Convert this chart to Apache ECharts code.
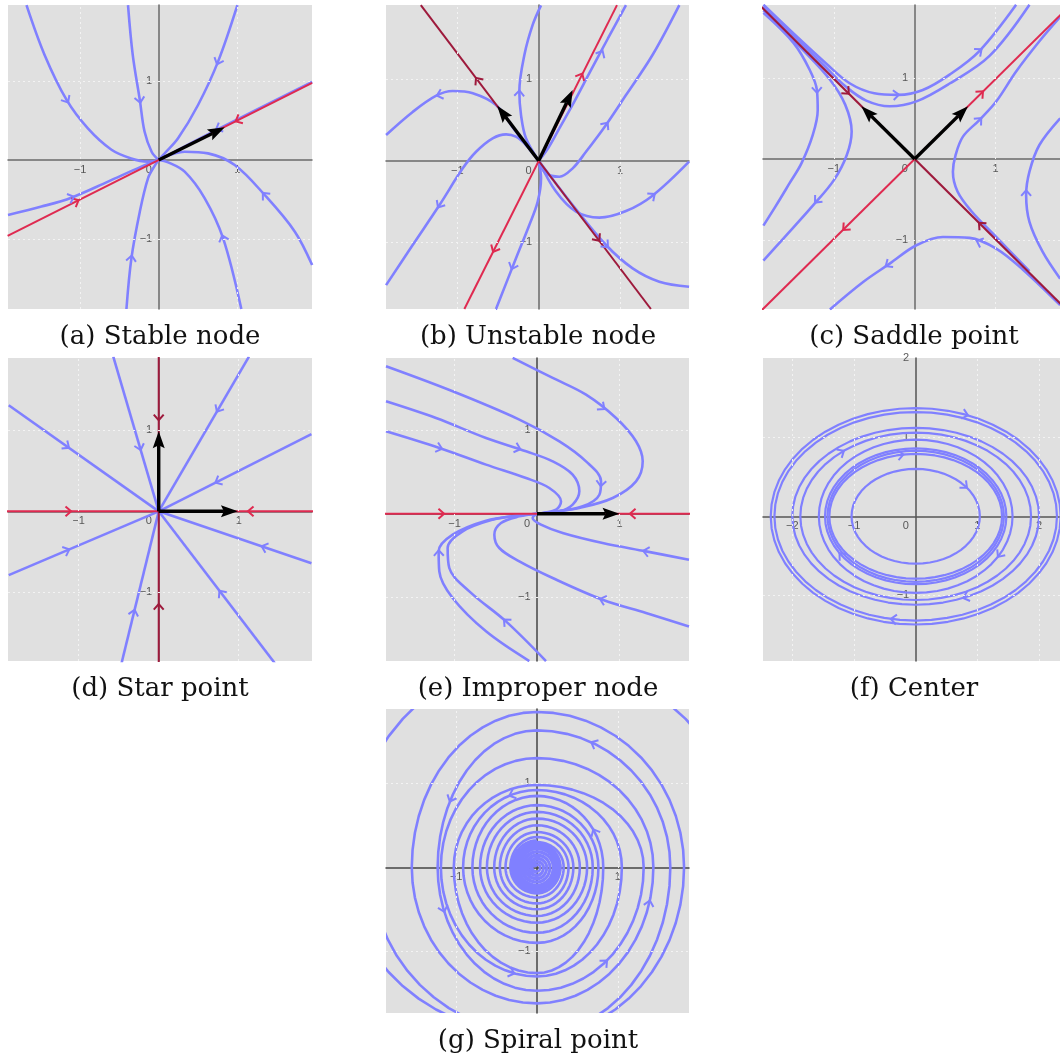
<!DOCTYPE html>
<html><head><meta charset="utf-8">
<script src="https://cdn.jsdelivr.net/npm/echarts@6/dist/echarts.min.js"></script>
<style>html,body{margin:0;padding:0;background:#fff}#c{width:1060px;height:1061px}</style>
</head><body><div id="c"></div>
<script>
// ================= DATA =================
const captions = ['(a) Stable node', '(b) Unstable node', '(c) Saddle point', '(d) Star point', '(e) Improper node', '(f) Center', '(g) Spiral point'];
const ticksX = [-1, 0, 1];
const ticksY = [-1, 1];
const ticksXf = [-2, -1, 0, 1, 2];
const ticksYf = [-1, 1, 2];

// (a) Stable node  — trajectories [x,y]
const aCurves = [
  [[-1.68,1.96],[-1.45,1.33],[-1.17,0.76],[-0.90,0.40],[-0.60,0.13],[-0.35,0.02],[-0.14,-0.02],[0,0]],
  [[-0.39,1.96],[-0.33,1.33],[-0.24,0.76],[-0.18,0.36],[-0.09,0.105],[0,0]],
  [[1.0,1.96],[0.754,1.245],[0.5,0.696],[0.246,0.274],[0.076,0.084],[0,0]],
  [[1.95,-1.33],[1.73,-0.907],[1.347,-0.443],[0.966,-0.063],[0.627,0.084],[0.33,0.105],[0.12,0.055],[0,0]],
  [[1.05,-1.886],[0.818,-0.99],[0.585,-0.485],[0.33,-0.148],[0.12,-0.03],[0,0]],
  [[-0.41,-1.886],[-0.347,-1.245],[-0.24,-0.654],[-0.136,-0.232],[-0.05,-0.07],[0,0]],
  [[-1.915,-0.696],[-1.49,-0.59],[-1.11,-0.477],[-0.644,-0.274],[-0.22,-0.084],[0,0]],
  [[1.95,0.99],[0.76,0.395],[0,0]]
];
const aEigen = [[[-1.92,-0.96],[1.95,0.975]]];
const aArrows = [[1.01,0.505,206.6,1],[-1.05,-0.525,26.6,1],[-1.17,0.76,-59,0],[-0.24,0.76,-81,0],[0.754,1.245,-111.5,0],[1.347,-0.443,132,0],[0.818,-0.99,108,0],[-0.347,-1.245,82,0],[-1.11,-0.477,20.6,0],[0.76,0.40,206.6,0]];
const aVectors = [[0,0,0.84,0.415]];

// (b) Unstable node
const bCurves = [
  [[0,0],[-0.156,0.275],[-0.217,0.56],[-0.238,0.85],[-0.176,1.30],[-0.074,1.67],[0.029,1.91]],
  [[0,0],[-0.28,0.357],[-0.525,0.684],[-0.81,0.83],[-1.057,0.857],[-1.26,0.80],[-1.55,0.60],[-1.877,0.316]],
  [[0,0],[-0.156,0.193],[-0.28,0.295],[-0.40,0.324],[-0.566,0.275],[-0.77,0.11],[-0.934,-0.094],[-1.22,-0.545],[-1.55,-1.037],[-1.877,-1.53]],
  [[0,0],[0.029,-0.217],[-0.012,-0.504],[-0.115,-0.79],[-0.279,-1.2],[-0.525,-1.824]],
  [[0,0],[0.12,0.16],[0.254,0.398],[0.44,0.73],[0.62,1.07],[0.85,1.5],[1.074,1.914]],
  [[0,0],[0.09,-0.156],[0.254,-0.197],[0.418,-0.094],[0.582,0.11],[0.828,0.44],[1.074,0.807],[1.40,1.30],[1.73,1.914]],
  [[0,0],[0.213,-0.38],[0.46,-0.627],[0.746,-0.70],[1.074,-0.619],[1.40,-0.43],[1.85,-0.012]],
  [[0,0],[0.418,-0.545],[0.828,-1.037],[1.156,-1.324],[1.484,-1.488],[1.85,-1.55]]
];
const bEigenSlow = [[[-1.45,1.914],[1.38,-1.824]]];
const bEigenFast = [[[-0.914,-1.824],[0.963,1.914]]];
const bArrows = [[-0.75,0.99,127,2],[0.725,-0.957,-53,2],[0.52,1.04,63.4,1],[-0.545,-1.09,243.4,1],[-0.238,0.83,87,0],[-1.22,0.81,197,0],[-1.22,-0.545,238,0],[-0.32,-1.30,249,0],[0.77,1.32,62,0],[0.828,0.44,53,0],[1.40,-0.43,37,0],[0.828,-1.037,-46,0]];
const bVectors = [[0,0,-0.51,0.675],[0,0,0.418,0.869]];

// (c) Saddle point
const cCurves = [
  [[-1.872,1.90],[-1.45,1.50],[-1.1,1.18],[-0.8,0.93],[-0.5,0.81],[-0.2,0.79],[0.1,0.85],[0.432,1.04],[0.80,1.33],[1.255,1.90]],
  [[-1.872,1.875],[-1.45,1.47],[-1.1,1.13],[-0.85,0.89],[-0.6,0.72],[-0.309,0.65],[0.021,0.71],[0.432,0.93],[0.926,1.27],[1.42,1.90]],
  [[-1.872,1.80],[-1.50,1.43],[-1.30,1.10],[-1.21,0.85],[-1.20,0.60],[-1.26,0.30],[-1.40,-0.05],[-1.55,-0.30],[-1.72,-0.58],[-1.872,-0.82]],
  [[-1.872,1.83],[-1.40,1.36],[-1.05,0.98],[-0.86,0.67],[-0.78,0.34],[-0.84,0.05],[-1.0,-0.26],[-1.255,-0.568],[-1.625,-0.979],[-1.872,-1.25]],
  [[1.42,-1.38],[1.008,-0.96],[0.70,-0.64],[0.53,-0.40],[0.473,-0.156],[0.506,0.049],[0.597,0.276],[0.80,0.48],[1.008,0.708],[1.255,1.078],[1.543,1.45],[1.80,1.75]],
  [[1.80,0.502],[1.543,0.173],[1.42,-0.156],[1.379,-0.444],[1.42,-0.774],[1.584,-1.144],[1.80,-1.473]],
  [[-1.049,-1.852],[-0.638,-1.514],[-0.309,-1.288],[0.021,-1.062],[0.35,-0.96],[0.679,-0.971],[1.008,-1.103],[1.337,-1.36],[1.80,-1.80]]
];
const cEigenStable = [[[-1.9,1.877],[1.9,-1.877]]];
const cEigenUnstable = [[[-1.9,-1.87],[1.9,1.87]]];
const cArrows = [[-0.84,0.83,-45,2],[0.82,-0.81,135,2],[0.82,0.81,45,1],[-0.86,-0.85,225,1],[-0.23,0.79,5,0],[0.80,1.33,38,0],[-1.21,0.85,-88,0],[-1.21,-0.51,228,0],[0.80,0.48,47,0],[1.379,-0.42,90,0],[-0.33,-1.30,214,0],[0.80,-1.02,158,0]];
const cVectors = [[0,0,0.66,0.65],[0,0,-0.66,0.65]];

// (d) Star point — straight trajectories from these ends into the origin
const dEnds = [[-1.875,1.31],[-0.568,1.909],[1.128,1.909],[1.909,0.954],[1.909,-0.64],[1.452,-1.876],[-0.465,-1.876],[-1.875,-0.788]];
const dEigenH = [[[-1.95,0],[1.95,0]]];
const dEigenV = [[[0,-1.95],[0,1.95]]];
const dArrows = [[-1.13,0,0,1],[1.15,0,180,1],[0,1.16,-90,2],[0,-1.18,90,2],[-1.15,0.804,-35.2,0],[-0.235,0.79,-73.6,0],[0.745,1.26,239.7,0],[0.74,0.37,206.9,0],[1.32,-0.442,161.3,0],[0.78,-1.008,127.4,0],[-0.31,-1.25,76.2,0],[-1.15,-0.483,23,0]];
const dVectors = [[0,0,0.99,0],[0,0,0,0.99]];

// (e) Improper node
const eCurves = [
  [[-0.295,1.861],[0.19,1.622],[0.594,1.422],[0.958,1.143],[1.2,0.865],[1.281,0.625],[1.2,0.386],[0.917,0.187],[0.513,0.068],[0.19,0.02],[0,0]],
  [[-1.83,1.761],[-1.022,1.462],[-0.214,1.124],[0.271,0.865],[0.594,0.625],[0.776,0.386],[0.756,0.227],[0.554,0.088],[0.19,0.02],[0,0]],
  [[-1.83,1.343],[-1.224,1.143],[-0.618,0.904],[-0.133,0.745],[0.19,0.625],[0.432,0.466],[0.513,0.267],[0.432,0.108],[0.271,0.028],[0,0]],
  [[-1.83,0.984],[-1.184,0.785],[-0.618,0.586],[-0.133,0.426],[0.149,0.307],[0.291,0.147],[0.23,0.048],[0,0]],
  [[1.842,-0.55],[1.321,-0.45],[0.796,-0.351],[0.311,-0.231],[0.048,-0.131],[-0.053,-0.052],[0,0]],
  [[1.842,-1.347],[1.321,-1.187],[0.796,-1.028],[0.19,-0.769],[-0.214,-0.57],[-0.457,-0.41],[-0.517,-0.251],[-0.436,-0.112],[-0.214,-0.032],[0,0]],
  [[0.109,-1.761],[-0.376,-1.287],[-0.82,-0.928],[-1.063,-0.649],[-1.083,-0.41],[-0.901,-0.211],[-0.537,-0.072],[-0.214,-0.02],[0,0]],
  [[-0.093,-1.761],[-0.618,-1.406],[-1.022,-1.008],[-1.184,-0.689],[-1.192,-0.45],[-1.022,-0.251],[-0.618,-0.084],[-0.214,-0.02],[0,0]]
];
const eEigen = [[[-1.9,0],[1.9,0]]];
const eArrows = [[-1.16,0,0,1],[1.16,0,180,1],[0.79,1.27,-38,0],[0.776,0.36,-96,0],[-0.234,0.78,-18,0],[-1.184,0.785,-17,0],[1.321,-0.45,169,0],[0.796,-1.028,163,0],[-0.376,-1.287,136,0],[-1.19,-0.47,91,0]];
const eVectors = [[0,0,1.0,0]];

// (f) Center — closed orbits: semi-axes
const fRx = [1.04, 1.40, 1.43, 1.47, 1.57, 1.87, 2.0, 2.29, 2.35];
const fRy = [0.60, 0.79, 0.83, 0.86, 0.97, 1.06, 1.12, 1.32, 1.37];
const fArrows = [[8,70],[5,130],[1,100],[0,40],[4,330],[6,294],[7,261],[3,215]]; // [orbit, angle°]

// (g) Spiral point — axis crossings every quarter turn (counter-clockwise)
const gStart = [0, 2, 1]; // 0:+x 1:+y 2:-x 3:-y
const gTrajA = [2.6,2.5,2.35,2.0,1.82,1.85,1.55,1.62,1.44,1.30,1.19,1.30,1.05,0.92,0.915,0.90,0.76,0.74,0.705,0.66,0.62,0.58,0.53,0.50,0.45,0.42,0.39,0.36,0.33,0.30,0.28,0.26,0.24,0.22,0.20,0.18,0.16,0.14,0.12,0.10,0.08,0.06,0.04];
const gTrajB = [2.05,1.98,1.65,1.63,1.23,1.47,1.32,0.98,1.03,1.26,0.82,0.85,0.80,0.78,0.69,0.66,0.62,0.58,0.53,0.50,0.46,0.43,0.39,0.36,0.33,0.31,0.285,0.26,0.24,0.22,0.20,0.18,0.16,0.14,0.12,0.10,0.08,0.06];
const gTrajC = [0.32,0.31,0.30,0.29,0.285,0.28,0.27,0.26,0.255,0.25,0.24,0.23,0.225,0.22,0.21,0.20,0.19,0.18,0.17,0.16,0.15,0.14,0.13,0.12,0.11,0.10,0.09,0.08,0.07,0.06,0.05,0.04,0.03,0.02];
const gArrows = [[1,2.72],[1,3.667],[1,10.33],[0,7.83],[1,5.44],[0,10.83],[1,4.22],[0,13.22]]; // [trajectory, quarter position]

// ================= STYLE / LAYOUT =================
const BLUE = '#8080ff', CRIM = '#df2a50', MAR = '#9e1a3c', BG = '#e0e0e0';
const ACOL = [BLUE, CRIM, MAR];
const panels = [
  {rect:[8,5,304,304],   x:[-1.915,1.948], y:[-1.886,1.962], xt:ticksX,  yt:ticksY,  gx:[-1,1], gy:[-1,1], ax:'#6a6a6a'},
  {rect:[386,5,303,304], x:[-1.878,1.849], y:[-1.824,1.915], xt:ticksX,  yt:ticksY,  gx:[-1,1], gy:[-1,1], ax:'#6a6a6a'},
  {rect:[763,5,297,304], x:[-1.877,1.798], y:[-1.847,1.897], xt:ticksX,  yt:ticksY,  gx:[-1,1], gy:[-1,1], ax:'#6a6a6a'},
  {rect:[8,358,304,303], x:[-1.884,1.916], y:[-1.848,1.893], xt:ticksX,  yt:ticksY,  gx:[-1,1], gy:[-1,1], ax:'#6a6a6a'},
  {rect:[386,358,303,303],x:[-1.83,1.842], y:[-1.76,1.86],   xt:ticksX,  yt:ticksY,  gx:[-1,1], gy:[-1,1], ax:'#444'},
  {rect:[763,358,297,303],x:[-2.475,2.339],y:[-1.832,2.004], xt:ticksXf, yt:ticksYf, gx:[-2,-1,1,2], gy:[-1,1], ax:'#555'},
  {rect:[386,709,303,304],x:[-1.869,1.881],y:[-1.735,1.885], xt:ticksX,  yt:ticksY,  gx:[-1,1], gy:[-1,1], ax:'#444'}
];
const capPos = [[160,337],[538,337],[914,337],[160,689],[538,689],[914,689],[538,1041]];

// ================= HELPERS =================
function chevronEl(P, angDeg, color, L, lw) {
  const a = angDeg * Math.PI / 180;
  const tx = Math.cos(a), ty = -Math.sin(a), nx = -ty, ny = tx;
  const c = Math.cos(0.72), s = Math.sin(0.72);
  const ap = [P[0] + tx * L * c * 0.5, P[1] + ty * L * c * 0.5];
  return {type:'polyline', shape:{points:[
    [ap[0] - L*c*tx + L*s*nx, ap[1] - L*c*ty + L*s*ny], ap,
    [ap[0] - L*c*tx - L*s*nx, ap[1] - L*c*ty - L*s*ny]]},
    style:{stroke:color, lineWidth:lw, fill:'none', lineJoin:'miter'}};
}
function lineSeries(p, pts, color, w, z) {
  return {type:'line', xAxisIndex:p, yAxisIndex:p, data:pts, smooth:0.35, showSymbol:false, symbol:'none',
    silent:true, z:z, lineStyle:{color:color, width:w}, clip:true};
}
function arrowSeries(p, list) {
  return {type:'custom', xAxisIndex:p, yAxisIndex:p, data:list, encode:{x:0, y:1}, z:6, silent:true, clip:true,
    renderItem:(params, api) => chevronEl(api.coord([api.value(0), api.value(1)]), api.value(2), ACOL[api.value(3)], 7.5, 2)};
}
function vectorSeries(p, list) {
  return {type:'custom', xAxisIndex:p, yAxisIndex:p, data:list, encode:{x:[0,2], y:[1,3]}, z:7, silent:true,
    renderItem:(params, api) => {
      const p0 = api.coord([api.value(0), api.value(1)]), p1 = api.coord([api.value(2), api.value(3)]);
      const dx = p1[0]-p0[0], dy = p1[1]-p0[1], len = Math.hypot(dx, dy), ux = dx/len, uy = dy/len;
      const H = 17, W = 6;
      const b = [p1[0]-ux*H, p1[1]-uy*H];
      return {type:'group', children:[
        {type:'line', shape:{x1:p0[0], y1:p0[1], x2:b[0]+ux*3, y2:b[1]+uy*3}, style:{stroke:'#000', lineWidth:3.4}},
        {type:'polygon', shape:{points:[p1, [b[0]-uy*W, b[1]+ux*W], [b[0]+ux*3, b[1]+uy*3], [b[0]+uy*W, b[1]-ux*W]]}, style:{fill:'#000'}}
      ]};
    }};
}
function trajSeries(p, trajs, starts, arrows, dirSign, lw) {
  return {type:'custom', xAxisIndex:p, yAxisIndex:p, data:trajs.map(() => [0, 0]), encode:{x:0, y:1}, z:3, silent:true, clip:true,
    renderItem:(params, api) => {
      const k = params.dataIndex, radii = trajs[k], q0 = starts[k];
      const o = api.coord([0, 0]);
      const ux = api.coord([1, 0])[0] - o[0], uy = o[1] - api.coord([0, 1])[1];
      const vec = (i) => { const q = (q0 + i) % 4, r = radii[i];
        return q === 0 ? [r*ux, 0] : q === 1 ? [0, -r*uy] : q === 2 ? [-r*ux, 0] : [0, r*uy]; };
      const at = (t) => { const i = Math.min(Math.floor(t), radii.length - 2), f = t - i, th = f * Math.PI / 2;
        const a = vec(i), b = vec(i + 1), c = Math.cos(th), s = Math.sin(th);
        return {p:[o[0] + a[0]*c + b[0]*s, o[1] + a[1]*c + b[1]*s], d:[-a[0]*s + b[0]*c, -a[1]*s + b[1]*c]}; };
      const pts = [], N = 14;
      for (let i = 0; i < radii.length - 1; i++) for (let j = 0; j < N; j++) pts.push(at(i + j / N).p);
      pts.push(at(radii.length - 1).p);
      const ch = [{type:'polyline', shape:{points:pts}, style:{stroke:BLUE, lineWidth:lw, fill:'none', lineJoin:'round'}}];
      arrows.filter(a => a[0] === k).forEach(a => {
        const r = at(a[1]);
        const ang = Math.atan2(-r.d[1] * dirSign, r.d[0] * dirSign) * 180 / Math.PI;
        ch.push(chevronEl(r.p, ang, BLUE, 7.5, 2));
      });
      return {type:'group', children:ch};
    }};
}
const fmt = (v) => String(v).replace('-', '\u2212');
const lblStyle = {fontSize:11, color:'#333', fontFamily:'Liberation Sans'};
function tickLabelSeries(p, xt, yt) {
  const data = xt.map(v => ({value:[v, 0], label:{position:'bottom', distance:4, offset:v === 0 ? [-10, 0] : [0, 0]}}))
    .concat(yt.map(v => ({value:[0, v], label:{position:'left', distance:6}})));
  return {type:'scatter', xAxisIndex:p, yAxisIndex:p, data:data, symbolSize:1, itemStyle:{color:'rgba(0,0,0,0)'},
    silent:true, z:1.5, clip:false,
    label:Object.assign({show:true, formatter:(d) => fmt(d.value[0] !== 0 || (d.value[1] === 0) ? d.value[0] : d.value[1])}, lblStyle)};
}

// ================= OPTION =================
const option = {animation:false, grid:[], xAxis:[], yAxis:[], series:[], graphic:[]};
panels.forEach((P, i) => {
  option.grid.push({left:P.rect[0], top:P.rect[1], width:P.rect[2], height:P.rect[3], show:true,
    backgroundColor:BG, borderWidth:0, containLabel:false, outerBoundsMode:'none'});
  option.xAxis.push({type:'value', gridIndex:i, min:P.x[0], max:P.x[1],
    axisLine:{onZero:true, lineStyle:{color:P.ax, width:1.5}}, axisTick:{show:false}, splitLine:{show:false}, axisLabel:{show:false}});
  option.yAxis.push({type:'value', gridIndex:i, min:P.y[0], max:P.y[1],
    axisLine:{onZero:true, lineStyle:{color:P.ax, width:1.5}}, axisTick:{show:false}, splitLine:{show:false}, axisLabel:{show:false}});
  option.series.push({type:'line', xAxisIndex:i, yAxisIndex:i, data:[], silent:true, z:0.5,
    markLine:{silent:true, symbol:['none','none'], label:{show:false}, animation:false,
      lineStyle:{color:'#f3f3f3', type:[2,3], width:1}, emphasis:{disabled:true},
      data:P.gx.map(v => ({xAxis:v})).concat(P.gy.map(v => ({yAxis:v})))}});
  option.series.push(tickLabelSeries(i, P.xt, P.yt));
  option.graphic.push({type:'text', x:capPos[i][0], y:capPos[i][1], silent:true,
    style:{text:captions[i], font:'26px "DejaVu Serif"', fill:'#111', textAlign:'center', textVerticalAlign:'middle', textBaseline:'middle'}});
});
// (a)
aCurves.forEach(c => option.series.push(lineSeries(0, c, BLUE, 2.6, 2)));
aEigen.forEach(c => option.series.push(lineSeries(0, c, CRIM, 2, 4)));
option.series.push(arrowSeries(0, aArrows), vectorSeries(0, aVectors));
// (b)
bCurves.forEach(c => option.series.push(lineSeries(1, c, BLUE, 2.6, 2)));
bEigenSlow.forEach(c => option.series.push(lineSeries(1, c, MAR, 2, 4)));
bEigenFast.forEach(c => option.series.push(lineSeries(1, c, CRIM, 2, 4)));
option.series.push(arrowSeries(1, bArrows), vectorSeries(1, bVectors));
// (c)
cCurves.forEach(c => option.series.push(lineSeries(2, c, BLUE, 2.6, 2)));
cEigenStable.forEach(c => option.series.push(lineSeries(2, c, MAR, 2, 4)));
cEigenUnstable.forEach(c => option.series.push(lineSeries(2, c, CRIM, 2, 4)));
option.series.push(arrowSeries(2, cArrows), vectorSeries(2, cVectors));
// (d)
dEnds.forEach(e => option.series.push(lineSeries(3, [e, [0, 0]], BLUE, 2.6, 2)));
dEigenH.forEach(c => option.series.push(lineSeries(3, c, CRIM, 2, 4)));
dEigenV.forEach(c => option.series.push(lineSeries(3, c, MAR, 2, 4)));
option.series.push(arrowSeries(3, dArrows), vectorSeries(3, dVectors));
// (e)
eCurves.forEach(c => option.series.push(lineSeries(4, c, BLUE, 2.6, 2)));
eEigen.forEach(c => option.series.push(lineSeries(4, c, CRIM, 2, 4)));
option.series.push(arrowSeries(4, eArrows), vectorSeries(4, eVectors));
// (f)
const fOrbits = fRx.map((rx, i) => [rx, fRy[i], rx, fRy[i], rx]);
option.series.push(trajSeries(5, fOrbits, fRx.map(() => 0), fArrows.map(a => [a[0], a[1] / 90]), -1, 2.2));
// (g)
option.series.push(trajSeries(6, [gTrajA, gTrajB, gTrajC], gStart, gArrows, 1, 2.6));

const chart = echarts.init(document.getElementById('c'), null, {renderer:'canvas'});
chart.setOption(option);
</script></body></html>
